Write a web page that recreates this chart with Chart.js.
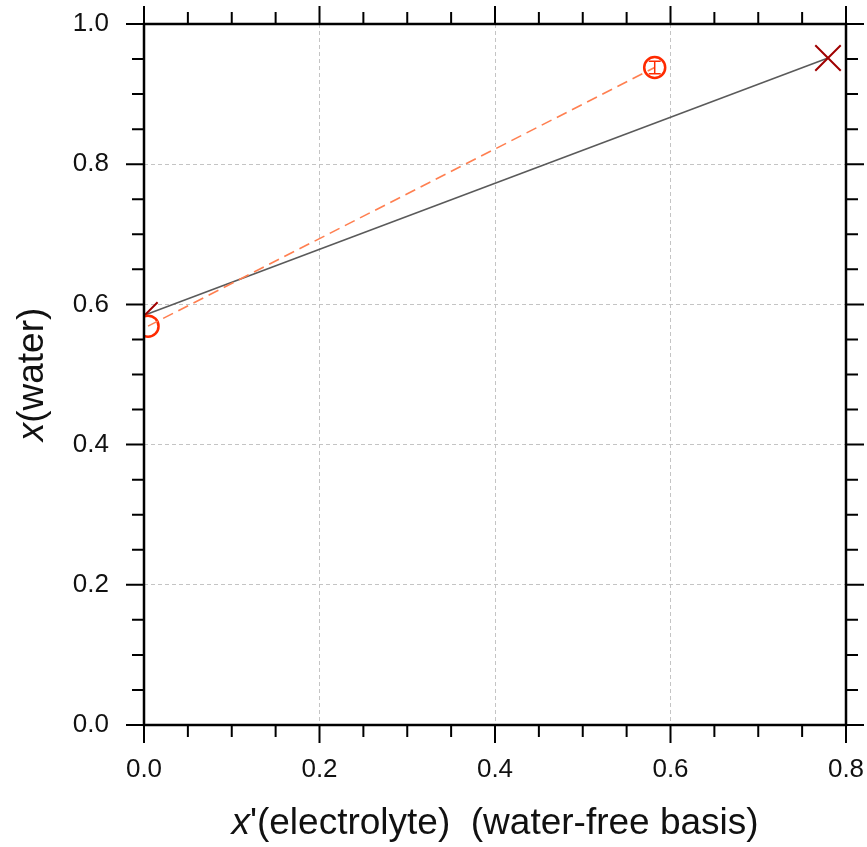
<!DOCTYPE html>
<html>
<head>
<meta charset="utf-8">
<script src="https://cdn.jsdelivr.net/npm/chart.js@4.4.1/dist/chart.umd.min.js"></script>
<style>
html, body { margin: 0; padding: 0; background: #fff; }
</style>
</head>
<body>
<canvas id="myChart" width="867" height="847"></canvas>
<script>
// solid line (model) end points
var fitX = [0.001, 0.7795];
var fitY = [0.585, 0.9515];
// dashed line (measured) points and their error bars
var measX = [0.0046, 0.582];
var measY = [0.569, 0.938];
var measXErr = [0, 0];
var measYErr = [0, 0.009];
// axis ticks
var xTicks = [0, 0.2, 0.4, 0.6, 0.8];
var yTicks = [0, 0.2, 0.4, 0.6, 0.8, 1.0];
var minorStep = 0.05;

var FONT = "'Liberation Sans', Arial, sans-serif";

function toPoints(xs, ys) {
    return xs.map(function (v, i) { return { x: v, y: ys[i] }; });
}

function noPadding(s) {
    s.paddingLeft = 0; s.paddingRight = 0; s.paddingTop = 0; s.paddingBottom = 0;
}

// error bars for the measured points
const errorBars = {
    id: 'errorBars',
    afterDatasetsDraw(chart) {
        const { ctx, chartArea: a, scales: { x, y } } = chart;
        ctx.save();
        ctx.beginPath();
        ctx.rect(a.left, a.top, a.right - a.left, a.bottom - a.top);
        ctx.clip();
        ctx.strokeStyle = '#ff2a00';
        ctx.lineWidth = 1.5;
        const cap = 6;
        for (let i = 0; i < measX.length; i++) {
            const px = x.getPixelForValue(measX[i]);
            const py = y.getPixelForValue(measY[i]);
            if (measYErr[i] > 0) {
                const y1 = y.getPixelForValue(measY[i] - measYErr[i]);
                const y2 = y.getPixelForValue(measY[i] + measYErr[i]);
                ctx.beginPath();
                ctx.moveTo(px, y1); ctx.lineTo(px, y2);
                ctx.moveTo(px - cap, y1); ctx.lineTo(px + cap, y1);
                ctx.moveTo(px - cap, y2); ctx.lineTo(px + cap, y2);
                ctx.stroke();
            }
            if (measXErr[i] > 0) {
                const x1 = x.getPixelForValue(measX[i] - measXErr[i]);
                const x2 = x.getPixelForValue(measX[i] + measXErr[i]);
                ctx.beginPath();
                ctx.moveTo(x1, py); ctx.lineTo(x2, py);
                ctx.moveTo(x1, py - cap); ctx.lineTo(x1, py + cap);
                ctx.moveTo(x2, py - cap); ctx.lineTo(x2, py + cap);
                ctx.stroke();
            }
        }
        ctx.restore();
    }
};

// box frame, mirrored outward ticks and the axis titles
const frame = {
    id: 'frame',
    afterDraw(chart) {
        const { ctx, chartArea: a, scales: { x, y } } = chart;
        ctx.save();
        ctx.strokeStyle = '#000';
        ctx.lineWidth = 2;
        ctx.beginPath();
        const nx = Math.round((x.max - x.min) / minorStep);
        for (let i = 0; i <= nx; i++) {
            const px = x.getPixelForValue(x.min + i * minorStep);
            const len = (i % 4 === 0) ? 18 : 12;
            ctx.moveTo(px, a.bottom); ctx.lineTo(px, a.bottom + len);
            ctx.moveTo(px, a.top); ctx.lineTo(px, a.top - len);
        }
        const ny = Math.round((y.max - y.min) / minorStep);
        for (let i = 0; i <= ny; i++) {
            const py = y.getPixelForValue(y.min + i * minorStep);
            const len = (i % 4 === 0) ? 18 : 12;
            ctx.moveTo(a.left, py); ctx.lineTo(a.left - len, py);
            ctx.moveTo(a.right, py); ctx.lineTo(a.right + len, py);
        }
        ctx.stroke();
        ctx.lineWidth = 2.5;
        ctx.strokeRect(a.left, a.top, a.right - a.left, a.bottom - a.top);

        // titles with italic x
        ctx.fillStyle = '#111';
        ctx.textBaseline = 'alphabetic';
        ctx.textAlign = 'left';
        const it = "italic 37px " + FONT, rm = "37px " + FONT;
        function drawParts(parts, cx, cy) {
            let w = 0;
            parts.forEach(function (p) { ctx.font = p[1]; w += ctx.measureText(p[0]).width; });
            let sx = cx - w / 2;
            parts.forEach(function (p) {
                ctx.font = p[1];
                ctx.fillText(p[0], sx, cy);
                sx += ctx.measureText(p[0]).width;
            });
        }
        drawParts([['x', it], ["'(electrolyte)  (water-free basis)", rm]], (a.left + a.right) / 2, 834);
        ctx.save();
        ctx.translate(43, (a.top + a.bottom) / 2);
        ctx.rotate(-Math.PI / 2);
        drawParts([['x', it], ['(water)', rm]], 0, 0);
        ctx.restore();
        ctx.restore();
    }
};

const ctx = document.getElementById('myChart');

new Chart(ctx, {
    type: 'scatter',
    data: {
        datasets: [{
            label: 'measured line',
            data: toPoints(measX, measY),
            showLine: true,
            borderColor: '#ff7f50',
            borderWidth: 1.6,
            borderDash: [11, 6],
            pointRadius: 0
        }, {
            label: 'measured',
            data: toPoints(measX, measY),
            showLine: false,
            pointStyle: 'circle',
            pointRadius: 10.5,
            pointBorderColor: '#ff2a00',
            pointBorderWidth: 2.5,
            pointBackgroundColor: '#ffffff'
        }, {
            label: 'model',
            data: toPoints(fitX, fitY),
            showLine: true,
            borderColor: '#5a5a5a',
            borderWidth: 1.6,
            pointStyle: 'crossRot',
            pointRadius: 18,
            pointBorderColor: '#a00000',
            pointBorderWidth: 2,
            pointBackgroundColor: 'transparent'
        }]
    },
    options: {
        responsive: false,
        animation: false,
        layout: { padding: { top: 24, right: 21, left: 0, bottom: 0 } },
        plugins: { legend: { display: false }, tooltip: { enabled: false } },
        scales: {
            x: {
                type: 'linear',
                min: 0,
                max: 0.8,
                afterBuildTicks: function (s) { s.ticks = xTicks.map(function (v) { return { value: v }; }); },
                afterFit: function (s) { s.height = 122; noPadding(s); },
                ticks: {
                    font: { family: FONT, size: 26 },
                    color: '#111',
                    padding: 29,
                    maxRotation: 0,
                    callback: function (v) { return v.toFixed(1); }
                },
                grid: { color: '#c4c4c4', lineWidth: 1, drawTicks: false },
                border: { display: false, dash: [4, 3] }
            },
            y: {
                type: 'linear',
                min: 0,
                max: 1.0,
                afterBuildTicks: function (s) { s.ticks = yTicks.map(function (v) { return { value: v }; }); },
                afterFit: function (s) { s.width = 144; noPadding(s); },
                ticks: {
                    font: { family: FONT, size: 26 },
                    color: '#111',
                    padding: 35,
                    callback: function (v) { return v.toFixed(1); }
                },
                grid: { color: '#c4c4c4', lineWidth: 1, drawTicks: false },
                border: { display: false, dash: [4, 3] }
            }
        }
    },
    plugins: [errorBars, frame]
});
</script>
</body>
</html>
